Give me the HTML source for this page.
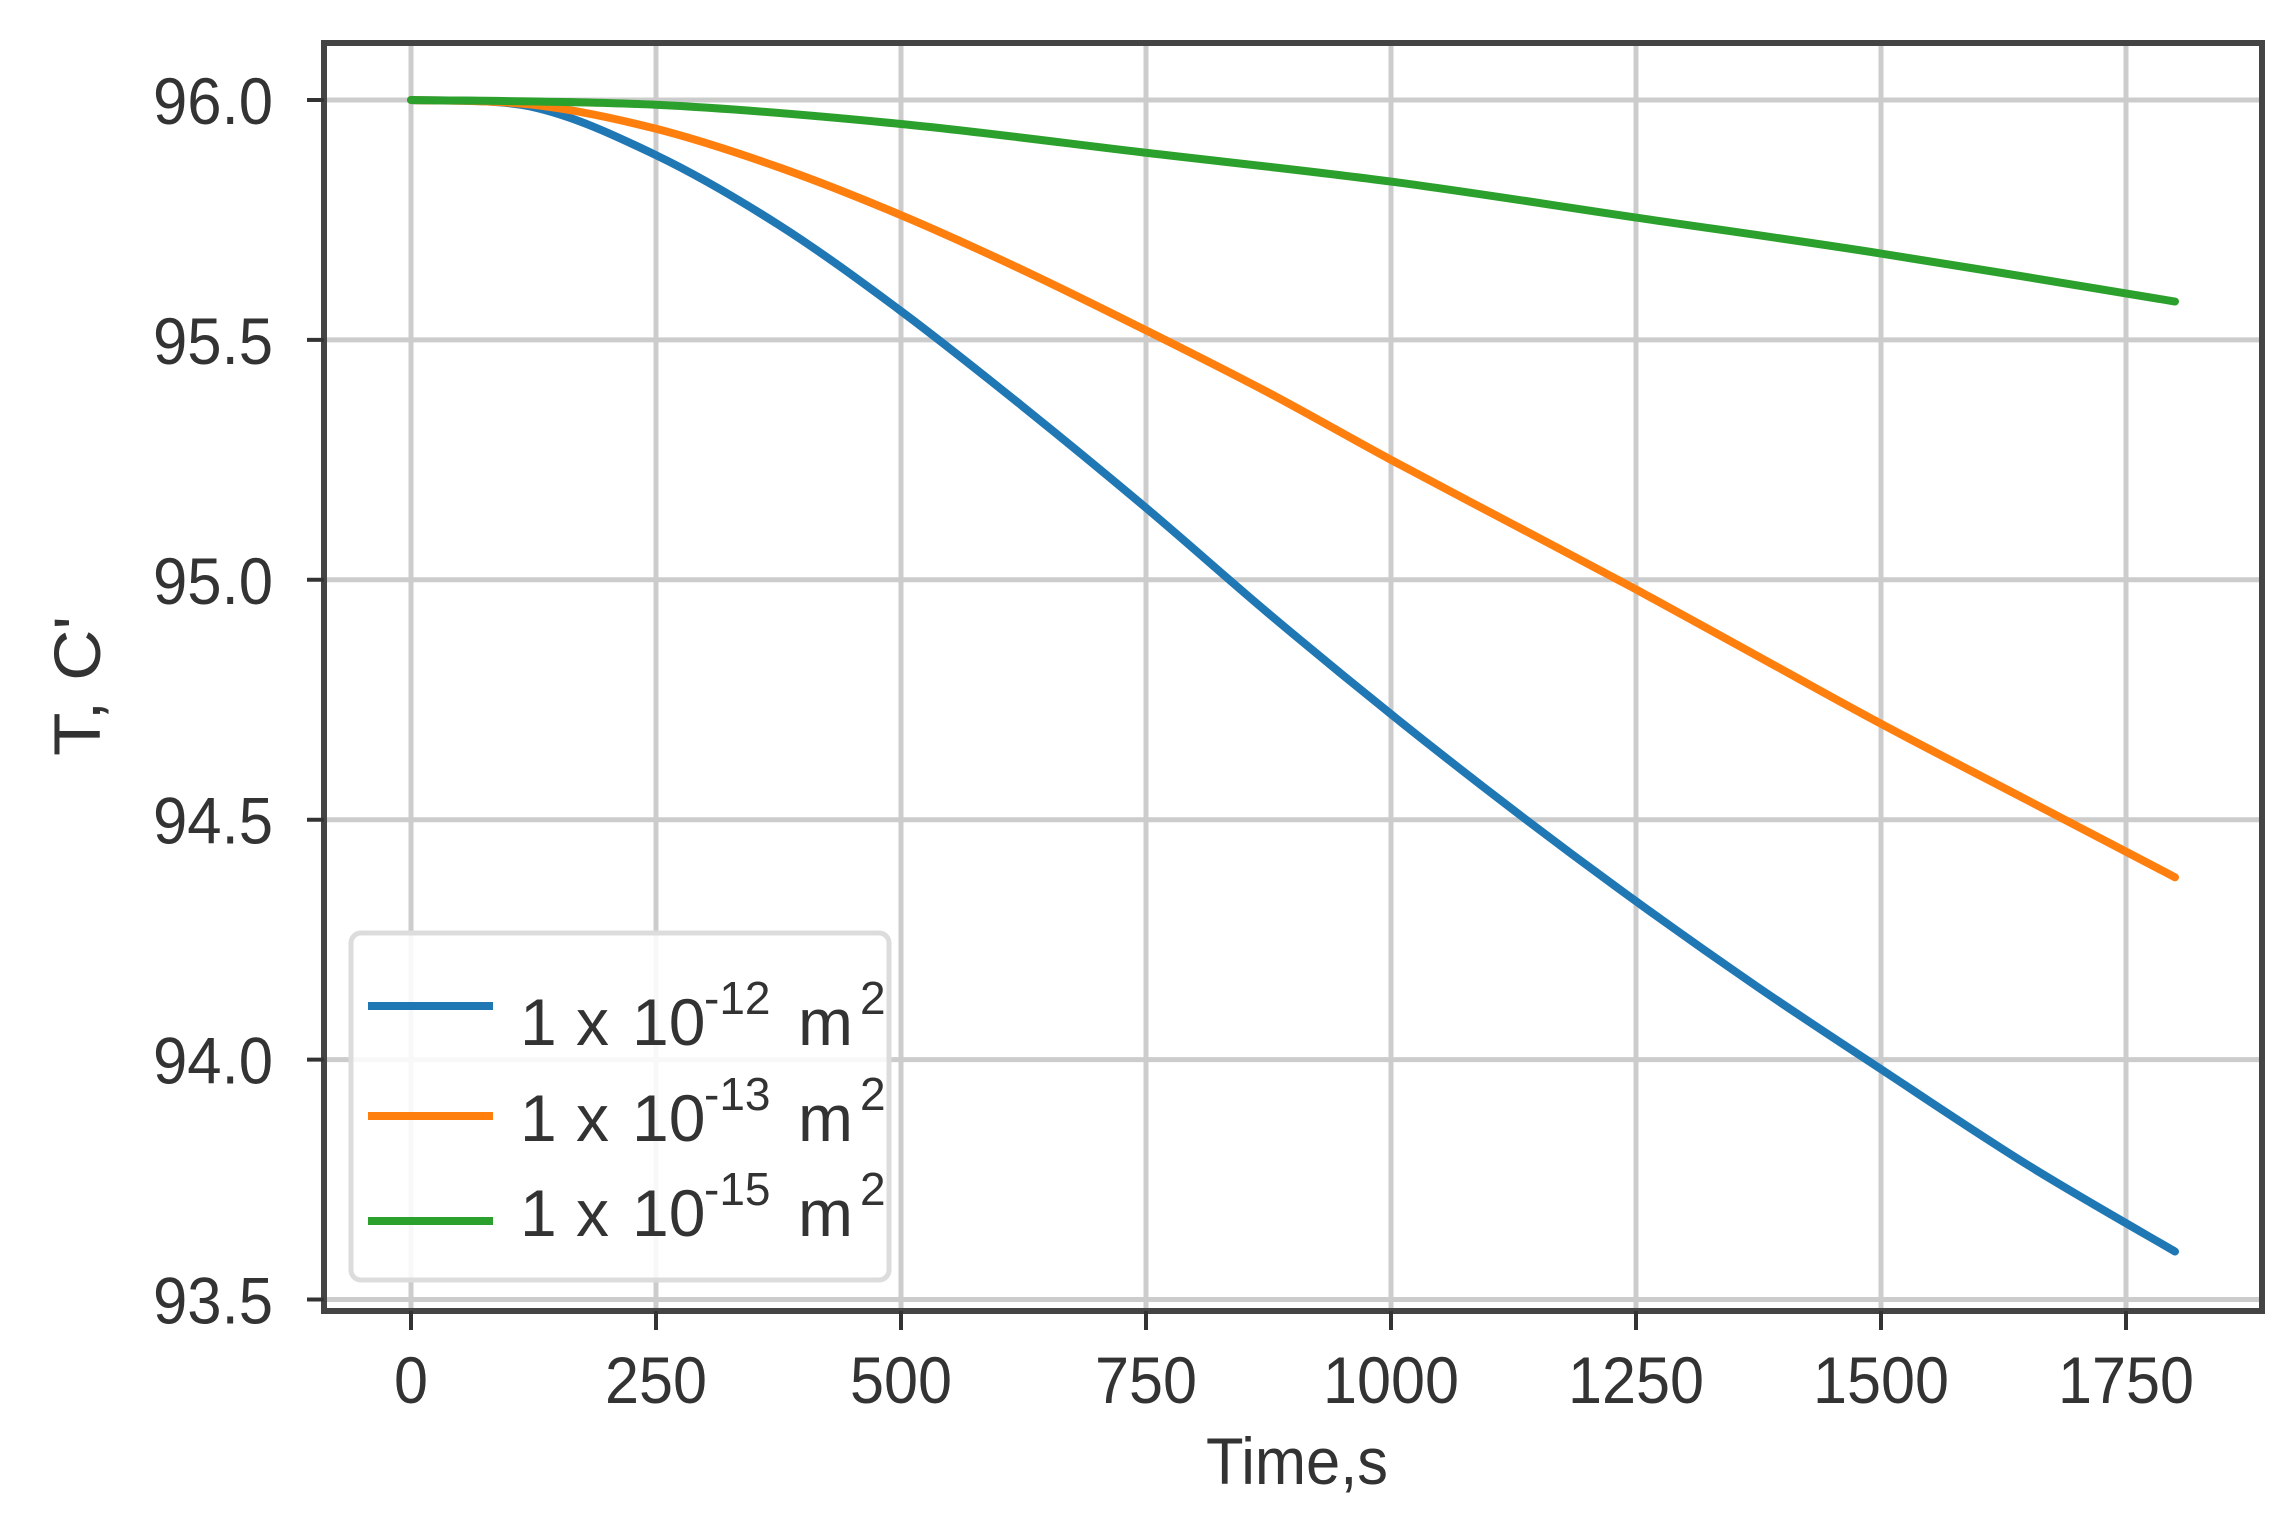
<!DOCTYPE html>
<html><head><meta charset="utf-8"><style>
html,body{margin:0;padding:0;background:#fff;}
svg{display:block;}
text{font-family:"Liberation Sans","DejaVu Sans",sans-serif;fill:#333;}
</style></head><body>
<svg id="s" width="2296" height="1519" viewBox="0 0 2296 1519" xmlns="http://www.w3.org/2000/svg">
<rect width="2296" height="1519" fill="#fff"/>
<g id="grid" stroke="#cccccc" stroke-width="5"></g>
<g id="curves" fill="none" stroke-width="8" stroke-linecap="round" stroke-linejoin="round"></g>
<!-- legend -->
<rect id="leg" x="351" y="933" width="538" height="347" rx="10" fill="#fff" fill-opacity="0.85" stroke="#dcdcdc" stroke-width="5"/>
<line x1="368" y1="1006" x2="493" y2="1006" stroke="#1f77b4" stroke-width="8"/>
<line x1="368" y1="1116" x2="493" y2="1116" stroke="#ff7f0e" stroke-width="8"/>
<line x1="368" y1="1221" x2="493" y2="1221" stroke="#2ca02c" stroke-width="8"/>
<g font-size="66" style="fill:#111">
<text y="1045"><tspan x="520">1</tspan><tspan x="576">x</tspan><tspan x="632">10</tspan><tspan x="704" y="1014" font-size="46">-12</tspan><tspan x="798" y="1045">m</tspan><tspan x="860" y="1014" font-size="46">2</tspan></text>
<text y="1141"><tspan x="520">1</tspan><tspan x="576">x</tspan><tspan x="632">10</tspan><tspan x="704" y="1110" font-size="46">-13</tspan><tspan x="798" y="1141">m</tspan><tspan x="860" y="1110" font-size="46">2</tspan></text>
<text y="1236"><tspan x="520">1</tspan><tspan x="576">x</tspan><tspan x="632">10</tspan><tspan x="704" y="1205" font-size="46">-15</tspan><tspan x="798" y="1236">m</tspan><tspan x="860" y="1205" font-size="46">2</tspan></text>
</g>
<!-- spines -->
<rect x="324" y="43" width="1938" height="1268" fill="none" stroke="#444" stroke-width="6"/>
<g id="ticks" stroke="#333" stroke-width="4"></g>
<g id="labels" font-size="66"></g>
<text x="1297" y="1484" font-size="66" text-anchor="middle" textLength="182" lengthAdjust="spacingAndGlyphs">Time,s</text>
<text transform="translate(100,686) rotate(-90)" font-size="66" text-anchor="middle" textLength="140" lengthAdjust="spacingAndGlyphs">T, C'</text>
</svg>
<script>
var NS="http://www.w3.org/2000/svg";
function X(t){return 411+t*0.98;}
function Y(T){return 100+(96-T)*479.8;}
function el(p,n,a,txt){var e=document.createElementNS(NS,n);for(var k in a)e.setAttribute(k,a[k]);if(txt)e.textContent=txt;document.getElementById(p).appendChild(e);return e;}
for(var t=0;t<=1750;t+=250){var x=X(t);
 el('grid','line',{x1:x,y1:45,x2:x,y2:1309});
 el('ticks','line',{x1:x,y1:1311,x2:x,y2:1330});
 var s=String(t);el('labels','text',{x:x,y:1403,'text-anchor':'middle',textLength:s.length*34,lengthAdjust:'spacingAndGlyphs'},s);}
for(var v=93.5;v<=96.01;v+=0.5){var y=Y(v);
 el('grid','line',{x1:326,y1:y,x2:2260,y2:y});
 el('ticks','line',{x1:307,y1:y,x2:324,y2:y});
 el('labels','text',{x:273,y:y+24,'text-anchor':'end',textLength:120,lengthAdjust:'spacingAndGlyphs'},v.toFixed(1));}
var data={
'#1f77b4':[[0,96],[125,95.985],[250,95.885],[375,95.74],[500,95.56],[625,95.36],[750,95.15],[875,94.93],[1000,94.72],[1125,94.52],[1250,94.33],[1375,94.15],[1500,93.98],[1650,93.78],[1800,93.6]],
'#ff7f0e':[[0,96],[125,95.99],[250,95.94],[375,95.86],[500,95.76],[625,95.645],[750,95.52],[875,95.39],[1000,95.25],[1125,95.115],[1250,94.98],[1375,94.84],[1500,94.70],[1650,94.54],[1800,94.38]],
'#2ca02c':[[0,96],[250,95.99],[500,95.95],[750,95.89],[1000,95.83],[1250,95.755],[1500,95.68],[1800,95.58]]};
for(var c in data){var p=data[c].map(function(d){return [X(d[0]),Y(d[1])];});
 var d='M'+p[0][0]+','+p[0][1];
 for(var i=0;i<p.length-1;i++){var p0=p[i-1]||p[i],p1=p[i],p2=p[i+1],p3=p[i+2]||p2;
  d+=' C'+(p1[0]+(p2[0]-p0[0])/6)+','+(p1[1]+(p2[1]-p0[1])/6)+' '+(p2[0]-(p3[0]-p1[0])/6)+','+(p2[1]-(p3[1]-p1[1])/6)+' '+p2[0]+','+p2[1];}
 el('curves','path',{d:d,stroke:c});}
document.getElementById('s').insertBefore(document.getElementById('curves'),document.getElementById('leg'));
</script>
</body></html>
